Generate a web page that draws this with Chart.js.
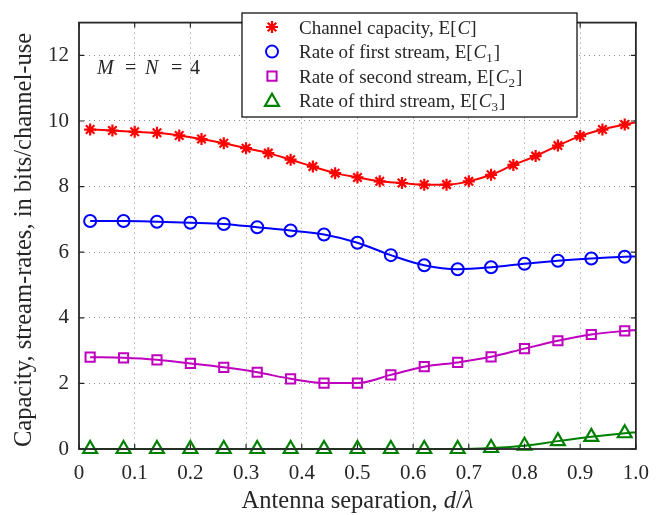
<!DOCTYPE html>
<html><head><meta charset="utf-8">
<script src="https://cdn.jsdelivr.net/npm/chart.js@4.4.0/dist/chart.umd.min.js"></script>
<style>html,body{margin:0;padding:0;background:#fff}canvas{display:block}</style>
</head><body>
<canvas id="c" width="661" height="515"></canvas>
<script>
// ---- data ----
const capX = [0.02,0.06,0.10,0.14,0.18,0.22,0.26,0.30,0.34,0.38,0.42,0.46,0.50,0.54,0.58,0.62,0.66,0.70,0.74,0.78,0.82,0.86,0.90,0.94,0.98,1.00];
const capacity = [9.74,9.71,9.67,9.64,9.56,9.45,9.32,9.17,9.02,8.82,8.61,8.41,8.28,8.16,8.11,8.06,8.06,8.16,8.36,8.66,8.93,9.25,9.54,9.74,9.89,9.96];
const streamX = [0.02,0.08,0.14,0.20,0.26,0.32,0.38,0.44,0.50,0.56,0.62,0.68,0.74,0.80,0.86,0.92,0.98,1.00];
const stream1 = [6.95,6.95,6.93,6.90,6.86,6.76,6.66,6.54,6.29,5.91,5.60,5.48,5.54,5.65,5.74,5.81,5.86,5.87];
const stream2 = [2.80,2.78,2.72,2.61,2.49,2.34,2.14,2.01,2.01,2.26,2.51,2.64,2.81,3.06,3.30,3.49,3.60,3.63];
const stream3 = [0,0,0,0,0,0,0,0,0,0,0,0,0.03,0.10,0.24,0.37,0.48,0.51];
const xTicks = [0,0.1,0.2,0.3,0.4,0.5,0.6,0.7,0.8,0.9,1.0];
const xTickLabels = ['0','0.1','0.2','0.3','0.4','0.5','0.6','0.7','0.8','0.9','1.0'];
const yTicks = [0,2,4,6,8,10,12];
const yTickLabels = ['0','2','4','6','8','10','12'];
const seriesNames = ['Channel capacity, E','Rate of first stream, E','Rate of second stream, E','Rate of third stream, E'];
const seriesSymbols = ['C','C','C','C'];
const seriesSubs = ['','1','2','3'];
const xTitle = ['Antenna separation, ','d','/','λ'];
const yTitle = 'Capacity, stream-rates, in bits/channel-use';
const annotation = ['M','=','N','=','4'];

const SERIF = "'Liberation Serif','Times New Roman',serif";
const styles = [
  {color:'#ff0000', style:'star', r:6, bw:2.2},
  {color:'#0000ff', style:'circle', r:6, bw:2},
  {color:'#bf00bf', style:'rect', r:6.5, bw:2},
  {color:'#008000', style:'triangle', r:8, bw:2.2}
];

function pts(xs, ys){ return xs.map((x,i)=>({x:x, y:ys[i]})); }
function mkDs(label, xs, ys, s){
  const last = xs.length-1;
  return {
    label: label, data: pts(xs, ys),
    borderColor: s.color, backgroundColor: 'rgba(0,0,0,0)',
    borderWidth: 2, pointStyle: s.style,
    pointRadius: (c)=> c.dataIndex===last ? 0 : s.r,
    pointHoverRadius: (c)=> c.dataIndex===last ? 0 : s.r,
    pointBorderWidth: s.bw, pointBorderColor: s.color,
    pointBackgroundColor: 'rgba(0,0,0,0)',
    cubicInterpolationMode: 'monotone', tension: 0.4, clip: false
  };
}

function drawMarker(ctx, style, x, y, r, color, bw){
  ctx.save();
  ctx.strokeStyle = color; ctx.lineWidth = bw; ctx.beginPath();
  if (style==='star'){
    for (let k=0;k<4;k++){
      const a = k*Math.PI/4;
      ctx.moveTo(x - r*Math.cos(a), y - r*Math.sin(a));
      ctx.lineTo(x + r*Math.cos(a), y + r*Math.sin(a));
    }
  } else if (style==='circle'){
    ctx.arc(x,y,r,0,2*Math.PI);
  } else if (style==='rect'){
    const s = r*Math.SQRT1_2; ctx.rect(x-s,y-s,2*s,2*s);
  } else if (style==='triangle'){
    ctx.moveTo(x, y-r);
    ctx.lineTo(x + r*Math.sin(Math.PI/3), y + r*0.5);
    ctx.lineTo(x - r*Math.sin(Math.PI/3), y + r*0.5);
    ctx.closePath();
  }
  ctx.stroke(); ctx.restore();
}

function richWidth(ctx, parts, size){
  let w = 0;
  for (const p of parts){
    const fs = p.sub ? Math.round(size*0.68) : size;
    ctx.font = (p.it ? 'italic ' : '') + fs + 'px ' + SERIF;
    w += ctx.measureText(p.t).width + (p.sp||0);
  }
  return w;
}
function drawRich(ctx, x, y, parts, size){
  for (const p of parts){
    const fs = p.sub ? Math.round(size*0.68) : size;
    ctx.font = (p.it ? 'italic ' : '') + fs + 'px ' + SERIF;
    ctx.fillText(p.t, x, y + (p.sub ? size*0.2 : 0));
    x += ctx.measureText(p.t).width + (p.sp||0);
  }
  return x;
}

const decor = {
  id: 'decor',
  beforeDraw(chart){
    const ctx = chart.ctx; ctx.save(); ctx.fillStyle='#fff';
    ctx.fillRect(0,0,chart.width,chart.height); ctx.restore();
  },
  afterDraw(chart){
    const ctx = chart.ctx, a = chart.chartArea;
    const xs = chart.scales.x, ys = chart.scales.y;
    ctx.save();
    // frame
    ctx.strokeStyle = '#262626'; ctx.lineWidth = 1.8;
    ctx.strokeRect(a.left, a.top, a.right-a.left, a.bottom-a.top);
    ctx.lineWidth = 1.2; ctx.beginPath();
    const tl = 5;
    xTicks.forEach(v=>{ const px = xs.getPixelForValue(v);
      ctx.moveTo(px, a.bottom); ctx.lineTo(px, a.bottom-tl);
      ctx.moveTo(px, a.top); ctx.lineTo(px, a.top+tl); });
    yTicks.forEach(v=>{ const py = ys.getPixelForValue(v);
      ctx.moveTo(a.left, py); ctx.lineTo(a.left+tl, py);
      ctx.moveTo(a.right, py); ctx.lineTo(a.right-tl, py); });
    ctx.stroke();
    ctx.fillStyle = '#262626'; ctx.textBaseline = 'alphabetic'; ctx.textAlign = 'left';
    // axis titles
    const tfs = 24.5;
    const xParts = [{t:xTitle[0]},{t:xTitle[1], it:true},{t:xTitle[2]},{t:xTitle[3], it:true}];
    const xw = richWidth(ctx, xParts, tfs);
    drawRich(ctx, (a.left+a.right)/2 - xw/2, 508, xParts, tfs);
    ctx.save();
    ctx.translate(31, 240); ctx.rotate(-Math.PI/2);
    ctx.font = tfs + 'px ' + SERIF; ctx.textAlign = 'center';
    ctx.fillText(yTitle, 0, 0);
    ctx.restore();
    // legend box
    const bx = 242, by = 13, bw = 335, bh = 104;
    ctx.fillStyle = '#fff'; ctx.fillRect(bx, by, bw, bh);
    ctx.strokeStyle = '#000'; ctx.lineWidth = 1.2; ctx.strokeRect(bx, by, bw, bh);
    const fs = 19;
    seriesNames.forEach((name, i)=>{
      const base = 33.5 + i*24.6;
      const s = styles[i];
      drawMarker(ctx, s.style, 272, base - 6.5 + (s.style==='triangle'?1:0), s.r, s.color, s.bw);
      ctx.fillStyle = '#262626';
      const parts = [{t:name},{t:'[', sp:1},{t:seriesSymbols[i], it:true, sp:0}];
      if (seriesSubs[i]) parts.push({t:seriesSubs[i], sub:true, sp:1});
      parts.push({t:']'});
      drawRich(ctx, 299, base, parts, fs);
    });
    // annotation M = N = 4
    const ann = [{t:annotation[0], it:true, x:97},{t:annotation[1], x:125},{t:annotation[2], it:true, x:145},{t:annotation[3], x:171},{t:annotation[4], x:190}];
    ann.forEach(p=>{ ctx.font = (p.it?'italic ':'') + '20px ' + SERIF; ctx.fillText(p.t, p.x, 73.5); });
    ctx.restore();
  }
};

new Chart(document.getElementById('c'), {
  type: 'line',
  data: { datasets: [
    mkDs(seriesNames[0], capX, capacity, styles[0]),
    mkDs(seriesNames[1], streamX, stream1, styles[1]),
    mkDs(seriesNames[2], streamX, stream2, styles[2]),
    mkDs(seriesNames[3], streamX, stream3, styles[3])
  ]},
  options: {
    responsive: false, animation: false, devicePixelRatio: 1,
    layout: { padding: { top: 10, right: 25, left: 0, bottom: 0 } },
    plugins: { legend: { display: false }, tooltip: { enabled: false } },
    events: [],
    scales: {
      x: {
        type: 'linear', min: 0, max: 1,
        afterBuildTicks: (s)=>{ s.ticks = xTicks.map(v=>({value:v})); },
        afterFit: (s)=>{ s.height = 66; },
        grid: { color: '#8c8c8c', lineWidth: 1, drawTicks: false },
        border: { display: false, dash: [1,4] },
        ticks: { padding: 12, color: '#262626', maxRotation: 0, autoSkip: false,
          font: { family: SERIF, size: 21 },
          callback: (v, i)=> xTickLabels[i] },
        title: { display: false }
      },
      y: {
        type: 'linear', min: 0, max: 13,
        afterBuildTicks: (s)=>{ s.ticks = yTicks.map(v=>({value:v})); },
        afterFit: (s)=>{ s.width = 79; },
        grid: { color: '#8c8c8c', lineWidth: 1, drawTicks: false },
        border: { display: false, dash: [1,4] },
        ticks: { padding: 10, color: '#262626', autoSkip: false,
          font: { family: SERIF, size: 21 },
          callback: (v, i)=> yTickLabels[i] },
        title: { display: false }
      }
    }
  },
  plugins: [decor]
});
</script>
</body></html>
